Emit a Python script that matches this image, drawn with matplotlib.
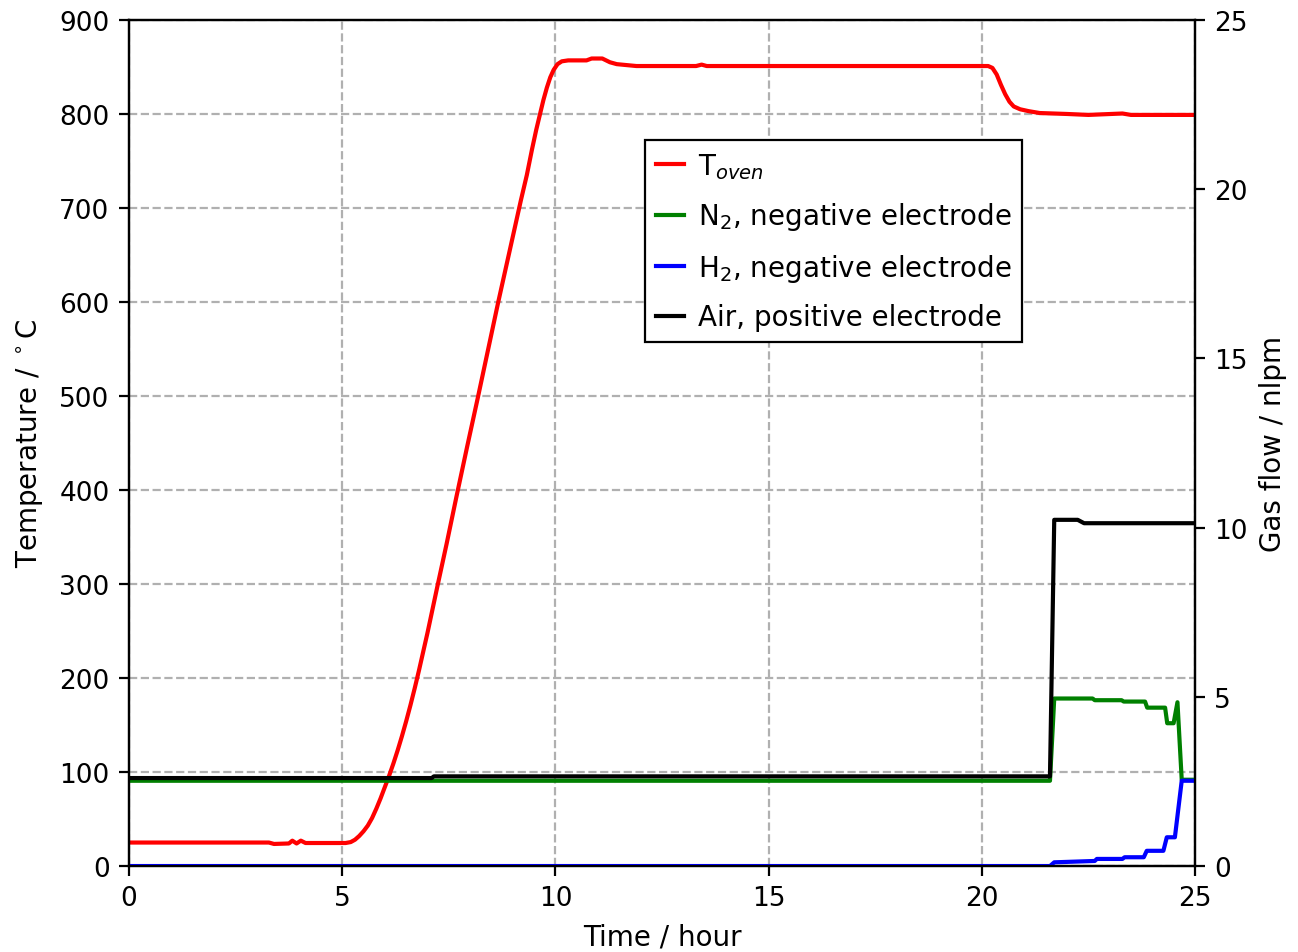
#!/usr/bin/env python3
# -*- coding: utf-8 -*-
import numpy as np
import matplotlib as mpl
mpl.use('Agg')
import matplotlib.pyplot as plt

mpl.rc('font', size=10)
mpl.rc('xtick', labelsize=9.5)
mpl.rc('ytick', labelsize=9.5)

# %%
# oven temperature (degC) vs time (hour)
t_oven = [0, 3.28, 3.4, 3.75, 3.83, 3.93, 4.03, 4.14, 5.08, 5.2, 5.3, 5.4, 5.5,
          5.6, 5.7, 5.8, 5.9, 6.0, 6.1, 6.2, 6.3, 6.4, 6.5, 6.6, 6.7, 6.8, 6.9,
          7.0, 7.23, 7.45, 7.68, 7.93, 8.18, 8.42, 8.66, 8.93, 9.19, 9.33, 9.45,
          9.55, 9.64, 9.72, 9.8, 9.88, 9.96, 10.05, 10.15, 10.3, 10.73, 10.85,
          11.1, 11.28, 11.44, 11.9, 13.3, 13.43, 13.55, 20.15, 20.25, 20.35,
          20.45, 20.55, 20.65, 20.75, 20.9, 21.1, 21.36, 22.0, 22.5, 23.3, 23.5,
          25.0]
T_oven = [25, 25, 23.5, 24, 27, 24, 27, 24.5, 24.5, 25.5, 28, 32, 37,
          43, 51, 61, 72, 84, 96, 109, 123, 138, 154, 171, 189, 208, 228,
          248, 297, 343, 393, 446, 498, 549, 600, 655, 708, 735, 762,
          783, 800, 815, 828, 839, 847, 853, 856, 857, 857, 859,
          859, 855, 853, 851, 851, 852.5, 851, 851, 849, 842,
          831, 821, 813, 808, 805, 803, 801, 800, 799, 800.5, 799,
          799]

# gas flows (nlpm)
t_n2 = [0, 21.6, 21.7, 22.6, 22.65, 23.28, 23.33, 23.83, 23.88, 24.3, 24.35,
        24.5, 24.59, 24.69, 25]
n2 = [2.52, 2.52, 4.95, 4.95, 4.9, 4.9, 4.86, 4.86, 4.68, 4.68, 4.22,
      4.22, 4.84, 2.55, 2.55]

t_h2 = [0, 21.6, 21.7, 22.65, 22.7, 23.3, 23.35, 23.8, 23.87, 24.26, 24.34,
        24.53, 24.69, 25]
h2 = [0, 0, 0.11, 0.15, 0.21, 0.21, 0.26, 0.26, 0.45, 0.45, 0.85,
      0.85, 2.52, 2.52]

t_air = [0, 7.1, 7.15, 21.6, 21.7, 22.25, 22.4, 25]
air = [2.60, 2.60, 2.65, 2.65, 10.23, 10.23, 10.13, 10.13]

# %%
fig = plt.figure(figsize=(6.49, 4.765))
ax = fig.add_subplot(111)
fig.subplots_adjust(left=0.0994, right=0.9206, top=0.978, bottom=0.0902)

l1, = ax.plot(t_oven, T_oven, 'r', label=r'T$_{oven}$')
ax.set_xlim(0, 25)
ax.set_ylim(0, 900)
ax.set_xticks(np.arange(0, 26, 5))
ax.set_yticks(np.arange(0, 901, 100))
ax.grid(True, linestyle='--', color='#b0b0b0', linewidth=0.8)
ax.set_xlabel('Time / hour', fontsize=10)
ax.set_ylabel(r'Temperature / $^\circ$C', fontsize=10, labelpad=5)

ax2 = ax.twinx()
l2, = ax2.plot(t_n2, n2, 'g', label=r'N$_2$, negative electrode')
l3, = ax2.plot(t_h2, h2, 'b', label=r'H$_2$, negative electrode')
l4, = ax2.plot(t_air, air, 'k', label='Air, positive electrode')
ax2.set_ylim(0, 25)
ax2.set_yticks(np.arange(0, 26, 5))
ax2.set_ylabel('Gas flow / nlpm', fontsize=10)

lines = [l1, l2, l3, l4]
leg = ax2.legend(lines, [l.get_label() for l in lines], loc='upper left',
                 bbox_to_anchor=(0.484, 0.858), borderaxespad=0,
                 fancybox=False, edgecolor='k', framealpha=1,
                 fontsize=10, handlelength=1.0, handletextpad=0.5,
                 labelspacing=0.7)
leg.get_frame().set_linewidth(0.8)

fig.savefig('out.png', dpi=200)
